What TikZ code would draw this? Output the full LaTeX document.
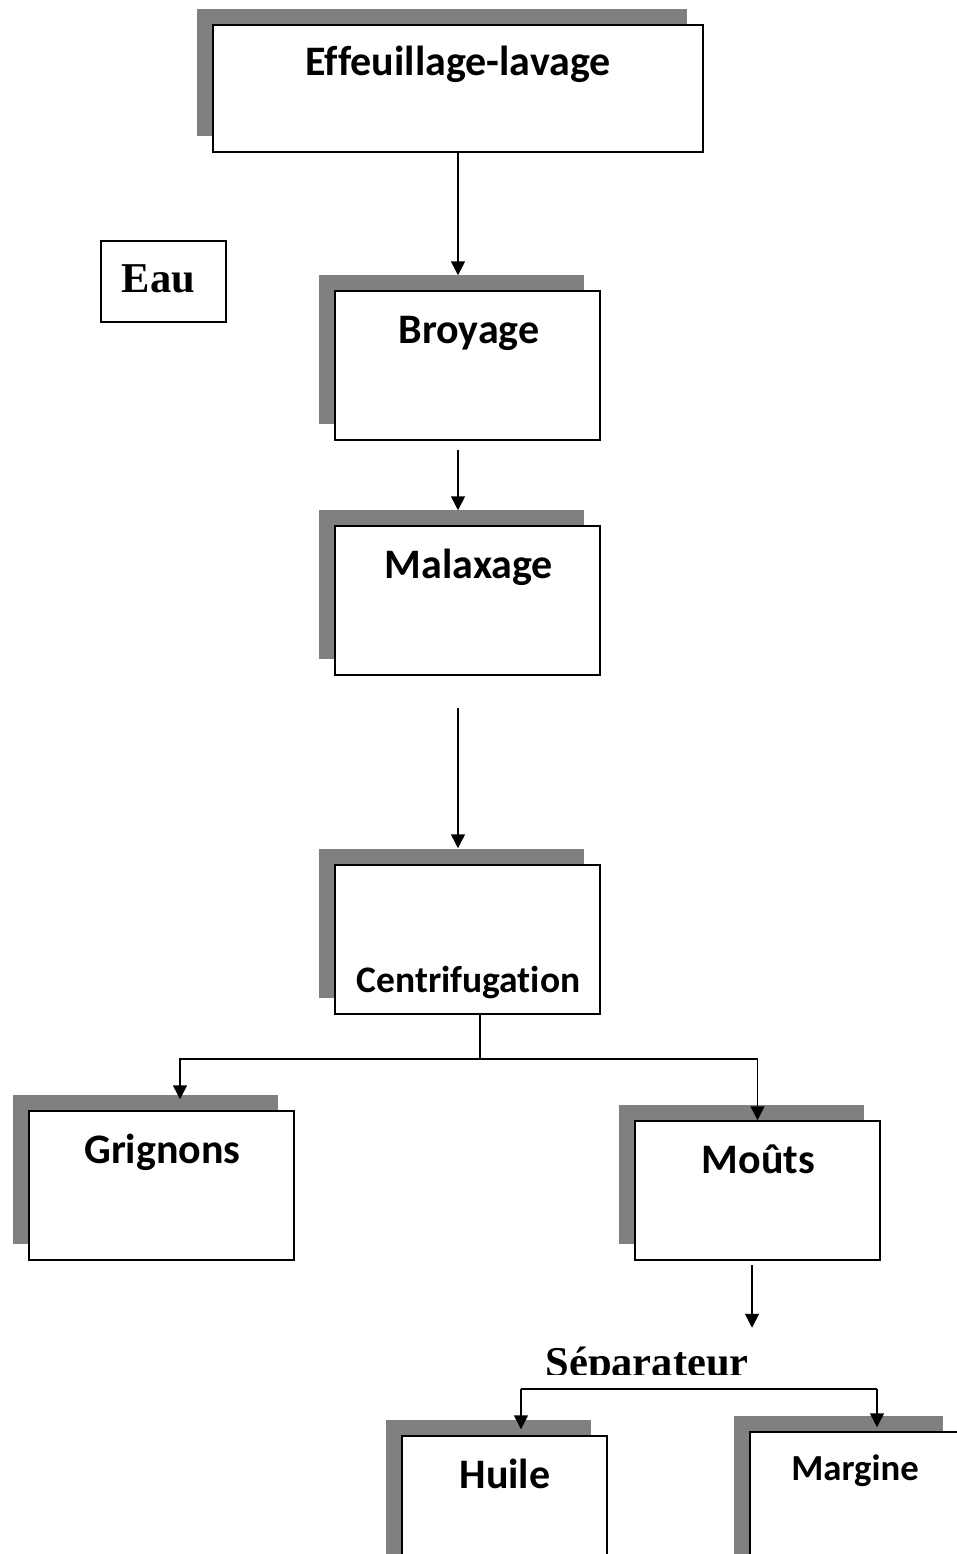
\documentclass[tikz,border=0pt]{standalone}
\usepackage{fontspec}
\setmainfont[Ligatures=NoCommon]{Carlito}
\newfontfamily\tnr{Liberation Serif}
\usetikzlibrary{shadows,arrows.meta,calc}
\definecolor{shadowgray}{HTML}{808080}
\begin{document}
\begin{tikzpicture}[x=1pt,y=1pt,
  procbox/.style={draw=black, fill=white, line width=1.5pt, inner sep=0pt, rectangle,
    general shadow={shadow xshift=-16pt, shadow yshift=16pt, fill=shadowgray}},
  plainbox/.style={draw=black, fill=white, line width=1.2pt, inner sep=0pt, rectangle},
  lbl/.style={anchor=base, inner sep=0pt, font=\fontsize{42}{50}\selectfont\bfseries},
  serif/.style={font=\tnr\fontsize{42.5}{50}\selectfont\bfseries},
  arr/.style={line width=1.5pt, -{Triangle[length=14pt,width=14pt]}},
  conn/.style={line width=1.5pt}]
\useasboundingbox (0,0) rectangle (957,-1554);
\clip (0,0) rectangle (957,-1554);
\fill[white] (0,0) rectangle (957,-1554);
% boxes
\node[procbox, minimum width=490pt, minimum height=127pt] (eff) at (458,-88.5) {};
\node[plainbox, minimum width=125pt, minimum height=81pt] (eau) at (163.5,-281.5) {};
\node[procbox, minimum width=265pt, minimum height=149pt] (bro) at (467.5,-365.5) {};
\node[procbox, minimum width=265pt, minimum height=149pt] (mal) at (467.5,-600.5) {};
\node[procbox, minimum width=265pt, minimum height=149pt] (cen) at (467.5,-939.5) {};
\node[procbox, minimum width=265pt, minimum height=149pt] (gri) at (161.5,-1185.5) {};
\node[procbox, minimum width=245pt, minimum height=139pt] (mou) at (757.5,-1190.5) {};
\node[procbox, minimum width=205pt, minimum height=160pt] (hui) at (504.5,-1516) {};
\node[procbox, minimum width=209pt, minimum height=168pt] (mar) at (854.5,-1516) {};
% labels
\node[lbl] (efft) at (458,-76) {Effeuillage-lavage};
\node[lbl, serif] (eaut) at (158.5,-292) {Eau};
\node[lbl] (brot) at (469,-343) {Broyage};
\node[lbl] (malt) at (469,-578) {Malaxage};
\node[lbl, font=\fontsize{37.5}{45}\selectfont\bfseries] (cent) at (468.5,-992) {Centrifugation};
\node[lbl] (grit) at (162.5,-1163) {Grignons};
\node[lbl] (mout) at (758.5,-1173) {Moûts};
\node[lbl] (huit) at (505,-1488) {Huile};
\node[lbl, font=\fontsize{36.7}{44}\selectfont\bfseries] (mart) at (855,-1480) {Margine};
\begin{scope}
\clip (0,-1300) rectangle (957,-1374);
\node[lbl, serif] (sept) at (647,-1376) {Séparateur};
\end{scope}
% connectors
\draw[arr] (eff.south) -- ($(eff.south |- bro.north)+(0,15)$);
\draw[arr] ($(eff.south |- bro.south)+(0,-9)$) -- ($(eff.south |- mal.north)+(0,15)$);
\draw[arr] ($(eff.south |- mal.south)+(0,-32)$) -- ($(eff.south |- cen.north)+(0,16)$);
\coordinate (split) at (480,-1059);
\coordinate (gritop) at ($(gri.north)+(18.5,11)$);
\draw[conn] (cen.south -| split) -- (split);
\draw[arr] (split) -| (gritop);
\draw[arr] (split) -| (mou.north);
\coordinate (moutop) at ($(mou.south)+(-5.5,-4)$);
\coordinate (mouend) at ($(mou.south)+(-5.5,-67)$);
\draw[arr] (moutop) -- (mouend);
\coordinate (sepL) at (521,-1389);
\coordinate (sepR) at (877,-1389);
\draw[conn] (sepL) -- (sepR);
\draw[arr] (sepL) -- ($(sepL |- hui.north)+(0,6)$);
\draw[arr] (sepR) -- ($(sepR |- mar.north)+(0,4)$);
\end{tikzpicture}
\end{document}
